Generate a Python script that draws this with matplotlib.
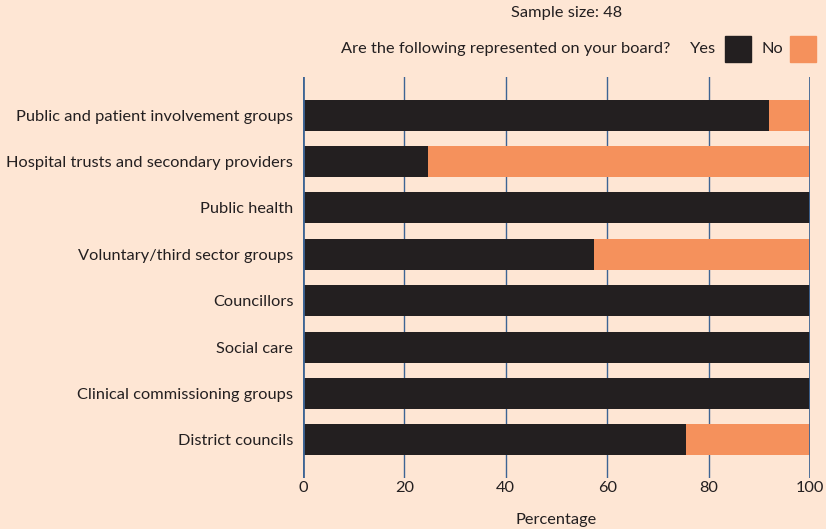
import matplotlib.pyplot as plt
from matplotlib.patches import Rectangle

plt.rcParams['font.family'] = ['Lato', 'DejaVu Sans']

# board representation, percent of respondents
groups = ['Public and patient involvement groups',
          'Hospital trusts and secondary providers',
          'Public health',
          'Voluntary/third sector groups',
          'Councillors',
          'Social care',
          'Clinical commissioning groups',
          'District councils']
yes = [91.9, 24.6, 100, 57.4, 100, 100, 100, 75.5]
no = [100 - v for v in yes]

bg = '#fee6d4'
black = '#231f20'
orange = '#f5915c'
grid = '#3d6494'
text_col = '#231f20'
fs = 11.8

fig = plt.figure(figsize=(8.26, 5.29), dpi=100, facecolor=bg)
ax = fig.add_axes([303 / 826, 1 - 478 / 529, 507 / 826, 401 / 529])
ax.set_facecolor(bg)

pos = list(range(len(groups)))
ax.barh(pos, yes, height=0.67, color=black, zorder=3)
ax.barh(pos, no, left=yes, height=0.67, color=orange, zorder=3)

ax.set_xlim(0, 100)
ax.set_ylim(len(groups) - 1 + 0.82, -0.82)
ax.set_xticks([0, 20, 40, 60, 80, 100])
ax.set_yticks(pos)
ax.set_yticklabels(groups, fontsize=fs, color=text_col)
ax.tick_params(axis='x', length=0, pad=2, labelsize=fs, colors=text_col)
ax.tick_params(axis='y', length=0, pad=7, labelsize=fs, colors=text_col)

for s in ax.spines.values():
    s.set_visible(False)
for x in [20, 40, 60, 80]:
    ax.axvline(x, color=grid, lw=1.0, zorder=1)
for x in [0, 100]:
    ax.axvline(x, color=grid, lw=2.0, zorder=4)

ax.set_xlabel('Percentage', fontsize=fs, color=text_col, labelpad=13)

# header and legend
fig.text(567 / 826, 1 - 13 / 529, 'Sample size: 48', ha='center', va='center',
         fontsize=fs, color=text_col)
fig.text(670 / 826, 1 - 49 / 529, 'Are the following represented on your board?',
         ha='right', va='center', fontsize=fs, color=text_col)
fig.text(716 / 826, 1 - 49 / 529, 'Yes', ha='right', va='center',
         fontsize=fs, color=text_col)
fig.text(783 / 826, 1 - 49 / 529, 'No', ha='right', va='center',
         fontsize=fs, color=text_col)
fig.patches.append(Rectangle((725 / 826, 1 - 62 / 529), 26 / 826, 26 / 529,
                             transform=fig.transFigure, color=black))
fig.patches.append(Rectangle((790 / 826, 1 - 62 / 529), 26 / 826, 26 / 529,
                             transform=fig.transFigure, color=orange))

fig.savefig('out.png', dpi=100, facecolor=bg)
